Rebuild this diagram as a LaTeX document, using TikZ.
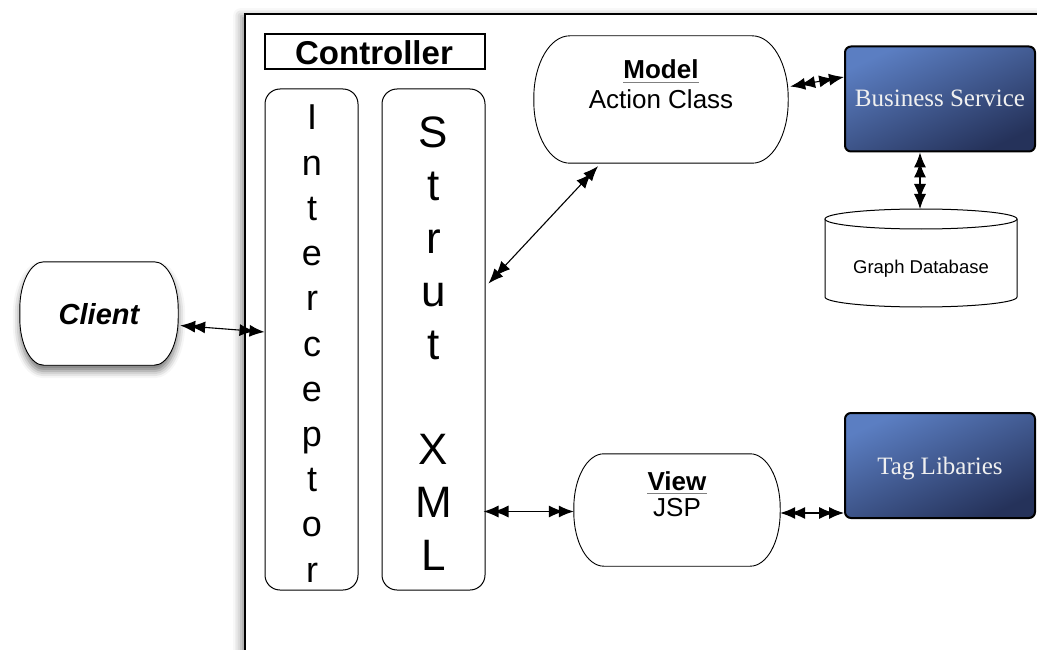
\documentclass[tikz,border=0pt]{standalone}
\usepackage{fontspec}
\setmainfont{Liberation Sans}
\newfontfamily\boxserif{Liberation Serif}
\usetikzlibrary{arrows.meta,calc,shadows.blur}

\definecolor{svctop}{HTML}{5B7EC2}
\definecolor{svcbot}{HTML}{25325A}

% outline of a box with flat top and bottom and elliptic rounded sides
% #1 extra style, #2 node name, #3 x radius, #4 y radius
\newcommand\capsule[4][]{%
  \draw[capsuleline,#1] ($(#2.north west)+(#3,0)$) -- ($(#2.north east)+(-#3,0)$)
    arc[start angle=-90, end angle=0, x radius=#3, y radius=#4]
    -- ($(#2.south east)+(0,-#4)$)
    arc[start angle=0, end angle=90, x radius=#3, y radius=#4]
    -- ($(#2.south west)+(#3,0)$)
    arc[start angle=90, end angle=180, x radius=#3, y radius=#4]
    -- ($(#2.north west)+(0,#4)$)
    arc[start angle=180, end angle=270, x radius=#3, y radius=#4] -- cycle;}

\begin{document}
\begin{tikzpicture}[x=1pt,y=-1pt,
  capsuleline/.style={draw, line width=0.9pt, fill=white},
  area/.style={rectangle, inner sep=0pt},
  column/.style={draw, line width=1pt, rounded corners=15pt, fill=white, inner sep=0pt},
  service/.style={draw, line width=2pt, rounded corners=6pt, top color=svctop,
    bottom color=svcbot, shading angle=25, inner sep=0pt,
    minimum width=190pt, minimum height=105pt},
  servicetext/.style={inner sep=0pt, anchor=base, text=white!94!black,
    font=\boxserif\fontsize{25}{27}\selectfont},
  label/.style={inner sep=0pt, anchor=base, font=\fontsize{26}{28}\selectfont},
  title/.style={label, font=\bfseries\fontsize{26}{28}\selectfont},
  letter/.style={inner sep=0pt, anchor=base, font=\fontsize{36}{38}\selectfont},
  bigletter/.style={inner sep=0pt, anchor=base, font=\fontsize{44}{46}\selectfont},
  headtip/.tip={Latex[length=15pt,width=12pt,fill=black]},
  link/.style={line width=1.1pt, {headtip[]headtip[sep=-5pt]}-{headtip[sep=-5pt]headtip[]}},
]
\useasboundingbox (0,0) rectangle (1037,650);
\clip (0,0) rectangle (1037,650);

% application frame with its soft shadow
\path[fill=white, blur shadow={shadow xshift=-4pt, shadow yshift=-2pt,
  shadow blur radius=8pt, shadow opacity=45}] (245,14) rectangle (1100,700);
\draw[line width=1.6pt] (245,700) -- (245,14) -- (1100,14);

% controller
\node[draw, line width=1.2pt, minimum width=220pt, minimum height=35pt, inner sep=0pt]
  (ctrl) at (375,51.5) {};
\node[title, font=\bfseries\fontsize{33}{35}\selectfont] (ctrltxt) at (374,64.5) {Controller};

\node[column, minimum width=93pt, minimum height=501pt] (icpt) at (311.5,339.5) {};
\node[column, minimum width=103pt, minimum height=501pt] (strut) at (433.5,339.5) {};

\foreach \ch [count=\i from 0] in {I,n,t,e,r,c,e,p,t,o,r}
  \node[letter] (ic-\i) at (312,130+45.2*\i) {\ch};
\foreach \ch/\row in {S/0,t/1,r/2,u/3,t/4,X/6,M/7,L/8}
  \node[bigletter] (sx-\row) at (433.5,148+52.75*\row) {\ch};

% client
\node[area, minimum width=158pt, minimum height=103pt] (client) at (99,313.5) {};
\capsule[blur shadow={shadow xshift=0pt, shadow yshift=-6pt, shadow blur radius=7pt,
  shadow opacity=55}]{client}{24}{47}
\node[label, font=\bfseries\itshape\fontsize{29}{30}\selectfont] (clienttxt) at (99,324) {Client};

% model
\node[area, minimum width=254pt, minimum height=127pt] (model) at (661,99.5) {};
\capsule{model}{36}{62}
\node[title] (modeltxt) at (661,79) {Model};
\draw[gray, line width=1.5pt] ([yshift=-3.5pt]modeltxt.base west) -- ([yshift=-3.5pt]modeltxt.base east);
\node[label] (actiontxt) at (661,109) {Action Class};

% view
\node[area, minimum width=206pt, minimum height=112pt] (view) at (677,510) {};
\capsule{view}{30}{54}
\node[title] (viewtxt) at (677,490) {View};
\draw[gray, line width=1.5pt] ([yshift=-3.5pt]viewtxt.base west) -- ([yshift=-3.5pt]viewtxt.base east);
\node[label] (jsptxt) at (677,516) {JSP};

% services
\node[service] (biz) at (940,99) {};
\node[servicetext] (biztxt) at (940,107) {Business Service};
\node[service] (tag) at (940,465.5) {};
\node[servicetext] (tagtxt) at (940,474) {Tag Libaries};

% graph database cylinder
\draw[line width=1pt, fill=white] (825,219) -- (825,297)
  arc[start angle=180, end angle=0, x radius=96, y radius=10] -- (1017,219);
\draw[line width=1pt, fill=white] (921,219) ellipse[x radius=96, y radius=10];
\coordinate (dbtop) at (921,209);
\node[label, font=\fontsize{18.5}{20}\selectfont] (dbtxt) at (921,273) {Graph Database};

% connectors
\draw[link] ([xshift=2pt,yshift=-12pt]client.east) -- ([yshift=7.5pt]icpt.west);
\draw[link] ([xshift=3pt,yshift=56pt]strut.east) -- ([xshift=-63pt,yshift=-3pt]model.south);
\coordinate (sv) at ([xshift=-2pt,yshift=-172pt]strut.east);
\draw[link] (sv) -- (sv -| view.west);
\coordinate (vt) at ([yshift=-3pt]view.east);
\draw[link] (vt) -- (vt -| tag.west);
\draw[link] ([xshift=2pt,yshift=13pt]model.east) -- ([yshift=22pt]biz.west);
\coordinate (bd) at ([xshift=-20pt]biz.south);
\draw[link] (bd) -- (bd |- dbtop);
\end{tikzpicture}
\end{document}
